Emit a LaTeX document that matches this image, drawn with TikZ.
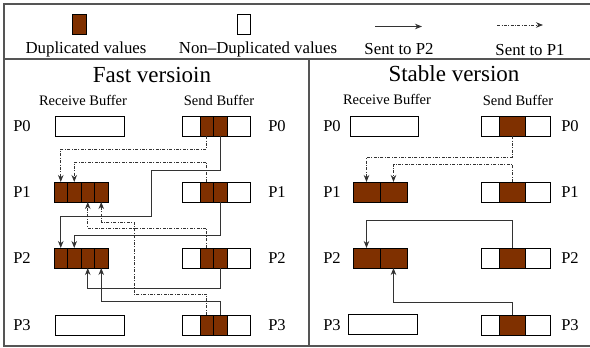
\documentclass[tikz,border=0pt]{standalone}
\usepackage{fontspec}
\setmainfont{Liberation Serif}
\usetikzlibrary{arrows.meta}
\definecolor{dupbrown}{HTML}{7F3000}
\definecolor{framegray}{HTML}{555555}

\tikzset{
  cell/.style={draw=black, line width=0.9pt, inner sep=0pt, outer sep=0pt, minimum height=20pt, anchor=west},
  dup/.style={cell, fill=dupbrown},
  nodup/.style={cell, fill=white},
  tosptwo/.style={draw=black!80, line width=0.8pt, -{Stealth[length=7pt,width=5.5pt]}},
  tospone/.style={draw=black!80, line width=0.8pt, dash pattern=on 3pt off 1.5pt on 0.8pt off 1.5pt, -{Stealth[length=7pt,width=5.5pt]}},
  plabel/.style={font=\fontsize{16.5}{18}\selectfont},
  bufhead/.style={font=\fontsize{14.5}{16}\selectfont},
  vtitle/.style={font=\fontsize{23}{25}\selectfont},
  legtext/.style={font=\fontsize{16.8}{18}\selectfont}
}

\begin{document}
\begin{tikzpicture}[x=1pt,y=-1pt]
    \useasboundingbox (0,0) rectangle (590,348);
    % frame
    \draw[framegray, line width=1.2pt] (590,4) -- (4,4) -- (4,346) -- (590,346);
    \draw[framegray, line width=1.2pt] (4,59) -- (590,59);
    \draw[framegray, line width=1.2pt] (309,59) -- (309,346);

    % legend
    \node[dup, anchor=center, minimum width=14pt] (legdup) at (79,24) {};
    \node[legtext] (legduptext) at (86,49) {Duplicated values};
    \node[nodup, anchor=center, minimum width=13pt] (legnodup) at (244,24) {};
    \node[legtext] (legnoduptext) at (258,49) {Non--Duplicated values};
    \coordinate (legtwoa) at (375,26.5);
    \coordinate (legtwob) at (422,26.5);
    \draw[tosptwo] (legtwoa) -- (legtwob);
    \node[legtext] (legtwotext) at (399,49) {Sent to P2};
    \coordinate (legonea) at (497,25);
    \coordinate (legoneb) at (543,25);
    \draw[tospone] (legonea) -- (legoneb);
    \node[legtext] (legonetext) at (530,50) {Sent to P1};

    % fast version
    \node[vtitle] (fasttitle) at (152,75) {Fast versioin};
    \node[bufhead] (fastrecv) at (83,100) {Receive Buffer};
    \node[bufhead] (fastsend) at (219,100) {Send Buffer};
    \foreach \r/\y in {0/126,1/192,2/258,3/325} {
      \node[plabel] (fl\r) at (22,\y) {P\r};
      \node[plabel] (fp\r) at (277,\y) {P\r};
      \node[nodup, minimum width=18pt] (fs\r a) at (182,\y) {};
      \node[dup, minimum width=13.5pt] (fs\r b) at (200,\y) {};
      \node[dup, minimum width=13.5pt] (fs\r c) at (213.5,\y) {};
      \node[nodup, minimum width=23pt] (fs\r d) at (227,\y) {};
    }
    \node[nodup, minimum width=69pt] (fr0) at (55,126) {};
    \node[nodup, minimum width=69pt] (fr3) at (55,325) {};
    \foreach \r/\y in {1/192,2/258} {
      \node[dup, minimum width=13.5pt] (fr\r a) at (54,\y) {};
      \node[dup, minimum width=13.5pt] (fr\r b) at (67.5,\y) {};
      \node[dup, minimum width=13.5pt] (fr\r c) at (81,\y) {};
      \node[dup, minimum width=13.5pt] (fr\r d) at (94.5,\y) {};
    }
    % sent to P1
    \draw[tospone] (fs0b.south) -- ++(0,13) -| (fr1a.north);
    \draw[tospone] (fs1b.north) -- ++(0,-20) -| (fr1b.north);
    \draw[tospone] (fs2b.north) -- ++(0,-20) -| (fr1c.south);
    \draw[tospone] (fs3b.north) -- ++(0,-21) -| (134,222) -| (fr1d.south);
    % sent to P2
    \draw[tosptwo] (fs0c.south) -- ++(0,34) -| (151,216) -| (fr2a.north);
    \draw[tosptwo] (fs1c.south) -- ++(0,33) -| (fr2b.north);
    \draw[tosptwo] (fs2c.south) -- ++(0,20) -| (fr2c.south);
    \draw[tosptwo] (fs3c.north) -- ++(0,-14) -| (fr2d.south);

    % stable version
    \node[vtitle] (stabtitle) at (454,74) {Stable version};
    \node[bufhead] (stabrecv) at (387,99) {Receive Buffer};
    \node[bufhead] (stabsend) at (518,100) {Send Buffer};
    \foreach \r/\y in {0/126,1/192,2/258,3/325} {
      \node[plabel] (sl\r) at (332,\y) {P\r};
      \node[plabel] (sp\r) at (570,\y) {P\r};
      \node[nodup, minimum width=18pt] (ss\r a) at (481,\y) {};
      \node[dup, minimum width=26pt] (ss\r b) at (499,\y) {};
      \node[nodup, minimum width=25pt] (ss\r c) at (525,\y) {};
    }
    \node[nodup, minimum width=68pt] (sr0) at (350,126) {};
    \node[nodup, minimum width=69pt] (sr3) at (348,324) {};
    \foreach \r/\y in {1/192,2/258} {
      \node[dup, minimum width=27pt] (sr\r a) at (353,\y) {};
      \node[dup, minimum width=27pt] (sr\r b) at (380,\y) {};
    }
    \draw[tospone] (ss0b.south) -- ++(0,21) -| (sr1a.north);
    \draw[tospone] (ss1b.north) -- ++(0,-18) -| (sr1b.north);
    \draw[tosptwo] (ss2b.north) -- ++(0,-28) -| (sr2a.north);
    \draw[tosptwo] (ss3b.north) -- ++(0,-13) -| (sr2b.south);
  \end{tikzpicture}
\end{document}
